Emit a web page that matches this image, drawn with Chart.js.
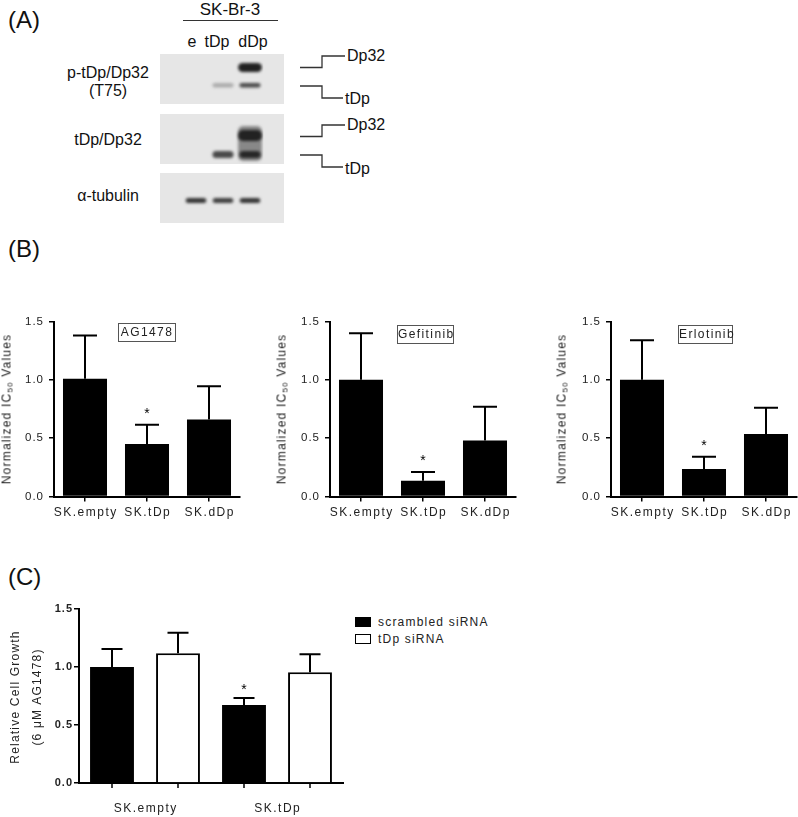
<!DOCTYPE html>
<html><head><meta charset="utf-8">
<script src="https://cdn.jsdelivr.net/npm/chart.js@4/dist/chart.umd.min.js"></script>
<style>
html,body{margin:0;padding:0;background:#fff;overflow:hidden}
#fig{position:relative;width:798px;height:817px;font-family:"Liberation Sans",Arial,sans-serif;color:#111;overflow:hidden}
canvas{position:absolute}
.t{position:absolute;white-space:nowrap}
.rot{position:absolute;white-space:nowrap;transform:translate(-50%,-50%) rotate(-90deg);font-size:12px;letter-spacing:1.2px;color:#222}
.rot sub{font-size:8px;vertical-align:-2px}
.tbox{position:absolute;border:1px solid #555;font-size:12px;letter-spacing:1.4px;text-align:center;line-height:17px;height:19px;color:#222;box-sizing:border-box}
</style></head>
<body>
<div id="fig">
  <div class="t" style="left:8px;top:8px;font-size:24px;line-height:24px">(A)</div>
  <div class="t" style="left:8px;top:237px;font-size:24px;line-height:24px">(B)</div>
  <div class="t" style="left:8px;top:565px;font-size:24px;line-height:24px">(C)</div>

  <div class="t" style="left:230px;top:1px;font-size:17px;line-height:17px;transform:translateX(-50%)">SK-Br-3</div>
  <div class="t" style="left:183px;top:20px;width:95px;height:0;border-top:1.3px solid #333"></div>
  <div id="laneLabels"></div>

  <div class="t" style="left:108px;top:65px;font-size:16px;line-height:16px;transform:translateX(-50%)">p-tDp/Dp32</div>
  <div class="t" style="left:108px;top:83px;font-size:16px;line-height:16px;transform:translateX(-50%)">(T75)</div>
  <div class="t" style="left:108px;top:132px;font-size:16px;line-height:16px;transform:translateX(-50%)">tDp/Dp32</div>
  <div class="t" style="left:108px;top:188px;font-size:16px;line-height:16px;transform:translateX(-50%)">α-tubulin</div>

  <svg class="t" style="left:0;top:0" width="400" height="230">
    <g fill="none" stroke="#333" stroke-width="1.3">
      <polyline points="300,67.5 322,67.5 322,56 345,56"/>
      <polyline points="300,86 322,86 322,98 343,98"/>
      <polyline points="300,136.5 322,136.5 322,125 345,125"/>
      <polyline points="300,155 322,155 322,167 343,167"/>
    </g>
  </svg>
  <div class="t" style="left:347px;top:48px;font-size:16px;line-height:16px">Dp32</div>
  <div class="t" style="left:345px;top:91px;font-size:16px;line-height:16px">tDp</div>
  <div class="t" style="left:347px;top:117px;font-size:16px;line-height:16px">Dp32</div>
  <div class="t" style="left:345px;top:161px;font-size:16px;line-height:16px">tDp</div>

  <canvas id="blot1" width="124" height="50" style="left:160px;top:54px;background:#e6e6e6"></canvas>
  <canvas id="blot2" width="124" height="50" style="left:160px;top:114px;background:#e6e6e6"></canvas>
  <canvas id="blot3" width="124" height="50" style="left:160px;top:173px;background:#e6e6e6"></canvas>

  <canvas id="b1" width="250" height="230" style="left:0px;top:300px"></canvas>
  <canvas id="b2" width="250" height="230" style="left:276px;top:300px"></canvas>
  <canvas id="b3" width="241" height="230" style="left:557px;top:300px"></canvas>
  <div class="rot" style="left:7px;top:409px">Normalized IC<sub>50</sub> Values</div>
  <div class="rot" style="left:282px;top:409px">Normalized IC<sub>50</sub> Values</div>
  <div class="rot" style="left:562px;top:409px">Normalized IC<sub>50</sub> Values</div>
  <div class="tbox" style="left:118px;top:323px;width:58px">AG1478</div>
  <div class="tbox" style="left:397px;top:325px;width:57px">Gefitinib</div>
  <div class="tbox" style="left:678px;top:325px;width:55px">Erlotinib</div>

  <canvas id="c1" width="330" height="227" style="left:20px;top:590px"></canvas>
  <div class="rot" style="left:15px;top:697px">Relative Cell Growth</div>
  <div class="rot" style="left:37px;top:697px">(6 μM AG1478)</div>
  <div id="legendC"></div>
</div>
<script>
// ---------- Data ----------
const lanes = ['e', 'tDp', 'dDp'];
// band intensity per lane (0 = no band)
const pDp32Band   = [0, 0, 0.95];
const pTdpBand    = [0, 0.28, 0.75];
const totSmear    = [0, 0, 0.45];
const totDp32Band = [0, 0, 0.9];
const totTdpBand  = [0, 0.75, 0.85];
const tubulinBand = [0.85, 0.8, 0.85];
// band migration ranges (0 = top of membrane strip, 50 = bottom)
const pDp32Rows   = [9, 18];
const pTdpRows    = [29, 33.5];
const totSmearRows= [12, 47];
const totDp32Rows = [16, 27];
const totTdpRows  = [37, 44];
const tubRows     = [25, 30];

const cellLines = ['SK.empty', 'SK.tDp', 'SK.dDp'];
const ag1478Mean    = [1.01, 0.45, 0.66];
const ag1478Err     = [0.37, 0.165, 0.285];
const gefitinibMean = [1.00, 0.135, 0.48];
const gefitinibErr  = [0.40, 0.075, 0.29];
const erlotinibMean = [1.00, 0.235, 0.535];
const erlotinibErr  = [0.34, 0.105, 0.225];
const bSignificant  = [false, true, false];
const yTicksB = [0, 0.5, 1.0, 1.5];

const groupsC = ['SK.empty', 'SK.tDp'];
const scrambledMean = [1.00, 0.672];
const scrambledErr  = [0.155, 0.06];
const tdpSiMean     = [1.118, 0.954];
const tdpSiErr      = [0.178, 0.155];
const scrambledSig  = [false, true];
const tdpSiSig      = [false, false];
const seriesC = ['scrambled siRNA', 'tDp siRNA'];

// ---------- Helpers ----------
function drawSpaced(ctx, text, x, y, sp, align) {
  const n = text.length;
  const total = ctx.measureText(text).width + sp * (n - 1);
  let x0 = align === 'right' ? x - total : align === 'center' ? x - total / 2 : x;
  ctx.textAlign = 'left';
  for (let i = 0; i < n; i++) {
    const off = ctx.measureText(text.slice(0, i)).width + sp * i;
    ctx.fillText(text[i], x0 + off, y);
  }
}

// ---------- Plugins ----------
const spacedTicks = {
  id: 'spacedTicks',
  afterDraw(chart, a, o) {
    if (!o.on) return;
    const ctx = chart.ctx, ca = chart.chartArea;
    ctx.save();
    ctx.fillStyle = o.color || '#222';
    const ys = chart.scales.y;
    ctx.font = o.yFont; ctx.textBaseline = 'middle';
    ys.ticks.forEach(t => {
      drawSpaced(ctx, Number(t.value).toFixed(1), ca.left - o.yGap, ys.getPixelForValue(t.value), o.ySp, 'right');
    });
    const xs = chart.scales.x;
    ctx.font = o.xFont; ctx.textBaseline = 'top';
    chart.data.labels.forEach((l, i) => {
      drawSpaced(ctx, l, xs.getPixelForTick(i), ca.bottom + o.xGap, o.xSp, 'center');
    });
    ctx.restore();
  }
};
const errPlugin = {
  id: 'errbars',
  afterDatasetsDraw(chart, args, o) {
    if (!o.cap) return;
    const ctx = chart.ctx, y = chart.scales.y;
    chart.data.datasets.forEach((ds, di) => {
      if (!ds.err) return;
      const meta = chart.getDatasetMeta(di);
      meta.data.forEach((bar, i) => {
        const top = y.getPixelForValue(ds.data[i] + ds.err[i]);
        ctx.save();
        ctx.strokeStyle = '#000'; ctx.lineWidth = 2; ctx.lineCap = 'butt';
        ctx.beginPath();
        ctx.moveTo(bar.x, bar.y); ctx.lineTo(bar.x, top);
        ctx.moveTo(bar.x - o.cap, top); ctx.lineTo(bar.x + o.cap, top);
        ctx.stroke();
        if (ds.sig && ds.sig[i]) {
          ctx.fillStyle = '#000'; ctx.font = '14px "Liberation Sans"';
          ctx.textAlign = 'center'; ctx.textBaseline = 'alphabetic';
          ctx.fillText('*', bar.x, top - o.starGap + 8);
        }
        ctx.restore();
      });
    });
  }
};
const barTickPlugin = {
  id: 'barTicks',
  afterDraw(chart, a, o) {
    if (!o.on) return;
    const ctx = chart.ctx, b = chart.chartArea.bottom;
    ctx.save(); ctx.strokeStyle = '#000'; ctx.lineWidth = 1.5;
    chart.data.datasets.forEach((ds, di) => {
      chart.getDatasetMeta(di).data.forEach(bar => {
        ctx.beginPath(); ctx.moveTo(bar.x, b); ctx.lineTo(bar.x, b + 5); ctx.stroke();
      });
    });
    ctx.restore();
  }
};
const blurPlugin = {
  id: 'blur',
  beforeDatasetsDraw(c) { c.ctx.save(); c.ctx.filter = 'blur(1.5px)'; },
  afterDatasetsDraw(c) { c.ctx.restore(); }
};
Chart.register(spacedTicks, errPlugin, barTickPlugin);

// ---------- Blots ----------
function band(intens, rows, pct) {
  return {
    data: intens.map(v => v > 0 ? rows.slice() : null),
    backgroundColor: intens.map(v => 'rgba(22,22,22,' + v + ')'),
    grouped: false, barPercentage: pct || 0.8, categoryPercentage: 1,
    borderRadius: 5, borderSkipped: false, borderWidth: 0
  };
}
function blot(id, sets) {
  new Chart(document.getElementById(id), {
    type: 'bar',
    data: { labels: lanes, datasets: sets },
    plugins: [blurPlugin],
    options: {
      responsive: false, animation: false,
      layout: { padding: { left: 22.5, right: 20.5, top: 0, bottom: 0 } },
      scales: {
        x: { display: false },
        y: { display: false, min: 0, max: 50, reverse: true }
      },
      plugins: { legend: { display: false }, tooltip: { enabled: false } }
    }
  });
}
blot('blot1', [band(pDp32Band, pDp32Rows, 0.88), band(pTdpBand, pTdpRows, 0.78)]);
blot('blot2', [band(totSmear, totSmearRows, 0.88), band(totDp32Band, totDp32Rows, 0.88), band(totTdpBand, totTdpRows, 0.78)]);
blot('blot3', [band(tubulinBand, tubRows, 0.76)]);

const laneX = [192, 217, 253];
const ll = document.getElementById('laneLabels');
lanes.forEach((l, i) => {
  const d = document.createElement('div');
  d.className = 't'; d.textContent = l;
  d.style.cssText = 'left:' + laneX[i] + 'px;top:34px;font-size:16px;line-height:16px;transform:translateX(-50%)';
  ll.appendChild(d);
});

// ---------- Panel B ----------
function chartB(id, mean, err, W) {
  return new Chart(document.getElementById(id), {
    type: 'bar',
    data: { labels: cellLines, datasets: [{
      data: mean, err: err, sig: bSignificant,
      backgroundColor: '#000', borderWidth: 0,
      barPercentage: 0.71, categoryPercentage: 1
    }] },
    options: {
      responsive: false, animation: false,
      layout: { padding: { left: 0, top: 21.5, right: W - 240, bottom: 0 } },
      scales: {
        x: {
          afterFit(s) { s.height = 33.5; },
          border: { display: true, color: '#000', width: 2 },
          grid: { display: true, drawOnChartArea: false, drawTicks: true, tickLength: 5, color: '#000', lineWidth: 1.5, offset: false },
          ticks: { display: false, autoSkip: false }
        },
        y: {
          min: 0, max: 1.5,
          afterFit(s) { s.width = 54; },
          afterBuildTicks(s) { s.ticks = yTicksB.map(v => ({ value: v })); },
          border: { display: true, color: '#000', width: 2 },
          grid: { display: true, drawOnChartArea: false, drawTicks: true, tickLength: 5, color: '#000', lineWidth: 1.5 },
          ticks: { display: false }
        }
      },
      plugins: {
        legend: { display: false }, tooltip: { enabled: false },
        errbars: { cap: 12, starGap: 15 },
        spacedTicks: { on: true, xSp: 1.5, ySp: 1, color: '#222', yFont: '11.5px "Liberation Sans"', xFont: '12px "Liberation Sans"', yGap: 11, xGap: 10 }
      }
    }
  });
}
chartB('b1', ag1478Mean, ag1478Err, 250);
chartB('b2', gefitinibMean, gefitinibErr, 250);
chartB('b3', erlotinibMean, erlotinibErr, 241);

// ---------- Panel C ----------
const chartC = new Chart(document.getElementById('c1'), {
  type: 'bar',
  data: { labels: groupsC, datasets: [
    { label: seriesC[0], data: scrambledMean, err: scrambledErr, sig: scrambledSig,
      backgroundColor: '#000', borderColor: '#000', borderWidth: 0,
      barPercentage: 0.665, categoryPercentage: 1 },
    { label: seriesC[1], data: tdpSiMean, err: tdpSiErr, sig: tdpSiSig,
      backgroundColor: '#fff', borderColor: '#000', borderWidth: 2, borderSkipped: 'bottom',
      barPercentage: 0.665, categoryPercentage: 1 }
  ] },
  options: {
    responsive: false, animation: false,
    layout: { padding: { left: 0, top: 19, right: 7, bottom: 0 } },
    scales: {
      x: {
        afterFit(s) { s.height = 34; },
        border: { display: true, color: '#000', width: 2 },
        grid: { display: false, drawTicks: false },
        ticks: { display: false, autoSkip: false }
      },
      y: {
        min: 0, max: 1.5,
        afterFit(s) { s.width = 59; },
        afterBuildTicks(s) { s.ticks = yTicksB.map(v => ({ value: v })); },
        border: { display: true, color: '#000', width: 2 },
        grid: { display: true, drawOnChartArea: false, drawTicks: true, tickLength: 5, color: '#000', lineWidth: 1.5 },
        ticks: { display: false }
      }
    },
    plugins: {
      legend: { display: false }, tooltip: { enabled: false },
      errbars: { cap: 10.5, starGap: 12 }, barTicks: { on: true },
      spacedTicks: { on: true, xSp: 1.5, ySp: 1, color: '#222', yFont: 'bold 11px "Liberation Sans"', xFont: '12px "Liberation Sans"', yGap: 7, xGap: 20 }
    }
  }
});

// legend for C built from datasets
const lg = document.getElementById('legendC');
chartC.data.datasets.forEach((ds, i) => {
  const top = 617 + i * 17;
  const box = document.createElement('div');
  box.className = 't';
  box.style.cssText = 'left:355px;top:' + top + 'px;width:16px;height:10px;box-sizing:border-box;border:1.5px solid #000;background:' + ds.backgroundColor;
  lg.appendChild(box);
  const tx = document.createElement('div');
  tx.className = 't'; tx.textContent = ds.label;
  tx.style.cssText = 'left:378px;top:' + (top - 1) + 'px;font-size:12px;line-height:12px;letter-spacing:1.2px;color:#222';
  lg.appendChild(tx);
});
</script>
</body></html>
